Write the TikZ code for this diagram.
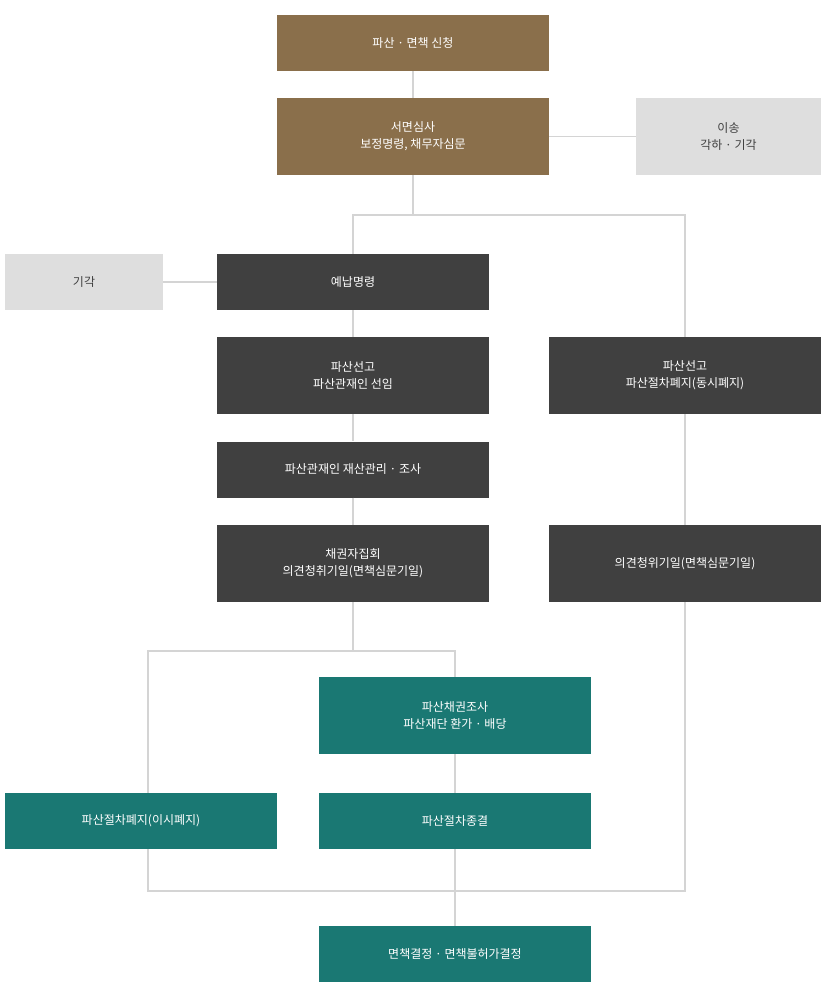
\documentclass[tikz,border=0pt]{standalone}
\usepackage{fontspec}
\setmainfont{Noto Sans CJK KR}
\usetikzlibrary{positioning,calc}
\definecolor{brn}{HTML}{8A6F4B}
\definecolor{drk}{HTML}{404040}
\definecolor{tel}{HTML}{1A7873}
\definecolor{gry}{HTML}{DEDEDE}
\definecolor{lin}{HTML}{D4D4D4}
\tikzset{box/.style={minimum width=272pt, minimum height=56pt, align=center, inner sep=0pt, font=\fontsize{12}{17}\selectfont, text=white},
tall/.style={minimum height=77pt},
line/.style={draw=lin, line width=1.6pt}}
\begin{document}
\begin{tikzpicture}[x=1pt,y=-1pt]
\useasboundingbox (0,0) rectangle (825,1000);
% Top
\node[box, fill=brn] (apply) at (413,43) {파산 · 면책 신청};
\node[box, tall, fill=brn] (review) at (413,136.5) {서면심사\\보정명령, 채무자심문};
\node[box, tall, fill=gry, text=black!75, minimum width=185pt] (trans) at (728.5,136.5) {이송\\각하 · 기각};
% Left column
\node[box, fill=gry, text=black!75, minimum width=158pt] (rej) at (84,282) {기각};
\node[box, fill=drk] (fee) at (353,282) {예납명령};
\node[box, tall, fill=drk] (decl) at (353,375.5) {파산선고\\파산관재인 선임};
\node[box, fill=drk] (admin) at (353,469.5) {파산관재인 재산관리 · 조사};
\node[box, tall, fill=drk] (meet) at (353,563.5) {채권자집회\\의견청취기일(면책심문기일)};
% Right column
\node[box, tall, fill=drk] (rdecl) at (685,375.5) {파산선고\\파산절차폐지(동시폐지)};
\node[box, tall, fill=drk] (rhear) at (685,563.5) {의견청위기일(면책심문기일)};
% Bottom
\node[box, tall, fill=tel] (claim) at (455,715.5) {파산채권조사\\파산재단 환가 · 배당};
\node[box, fill=tel] (abort) at (141,821) {파산절차폐지(이시폐지)};
\node[box, fill=tel] (close) at (455,821) {파산절차종결};
\node[box, fill=tel] (disc) at (455,954) {면책결정 · 면책불허가결정};
% Connectors
\coordinate (split) at (413,215);
\coordinate (fork) at (353,651);
\coordinate (merge) at (455,891);
\draw[line] (apply) -- (review);
\draw[line] (review) -- (trans);
\draw[line] (review) -- (split);
\draw[line] (split) -| (fee);
\draw[line] (split) -| (rdecl);
\draw[line] (rej) -- (fee);
\draw[line] (fee) -- (decl) (decl) -- (admin) (admin) -- (meet);
\draw[line] (rdecl) -- (rhear);
\draw[line] (meet) -- (fork) -| (148,793);
\draw[line] (fork) -| (claim);
\draw[line] (claim) -- (close);
\draw[line] (close) -- (disc);
\draw[line] (148,849) |- (merge);
\draw[line] (rhear) |- (merge);
\end{tikzpicture}
\end{document}
